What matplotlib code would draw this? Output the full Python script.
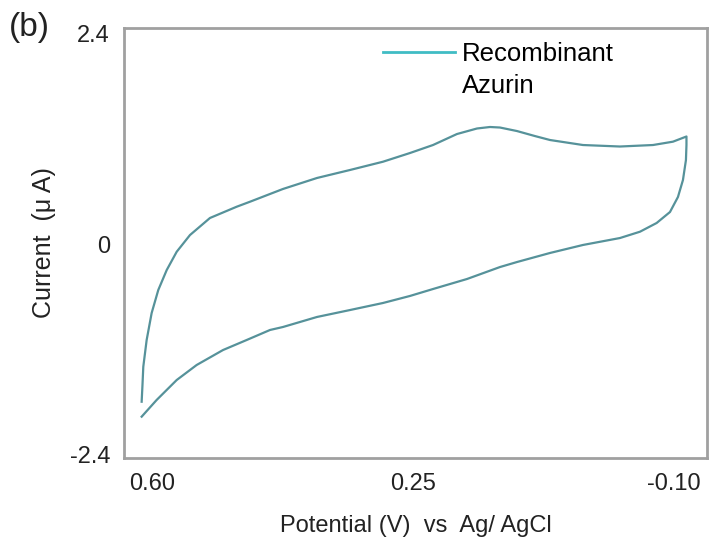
import matplotlib.pyplot as plt
from matplotlib.lines import Line2D

plt.rcParams['font.family'] = ['Liberation Sans', 'DejaVu Sans']

# Cyclic voltammogram (V vs Ag/AgCl, uA)
# forward sweep: from the positive vertex over the top to the negative vertex
fwd_potential = [0.6134, 0.6123, 0.6112, 0.6067, 0.6000, 0.5911, 0.5798, 0.5664,
                 0.5486, 0.5218, 0.4860, 0.4681, 0.4413, 0.4239, 0.3783, 0.3340,
                 0.2898, 0.2536, 0.2227, 0.1906, 0.1637, 0.1463, 0.1329, 0.1101,
                 0.0860, 0.0658, 0.0216, -0.0280, -0.0723, -0.0991, -0.1172]
fwd_current = [-1.794, -1.604, -1.396, -1.092, -0.785, -0.523, -0.296, -0.088,
               0.102, 0.296, 0.424, 0.481, 0.569, 0.626, 0.751, 0.842,
               0.936, 1.035, 1.126, 1.251, 1.314, 1.331, 1.325, 1.285,
               1.228, 1.183, 1.126, 1.109, 1.126, 1.164, 1.223]

# reverse sweep: back along the bottom
rev_potential = [-0.1172, -0.1165, -0.1125, -0.1058, -0.0951, -0.0772, -0.0549,
                 -0.0280, 0.0216, 0.0658, 0.1101, 0.1329, 0.1771, 0.2227, 0.2536,
                 0.2898, 0.3340, 0.3783, 0.4239, 0.4413, 0.4726, 0.5043, 0.5396,
                 0.5664, 0.5933, 0.6134]
rev_current = [1.126, 0.955, 0.728, 0.535, 0.364, 0.239, 0.140,
               0.068, -0.011, -0.102, -0.205, -0.262, -0.398, -0.512, -0.591,
               -0.671, -0.751, -0.830, -0.944, -0.978, -1.092, -1.206, -1.376,
               -1.547, -1.774, -1.964]

x_ticks = [0.60, 0.25, -0.10]
x_ticklabels = ['0.60', '0.25', '-0.10']
y_ticks = [2.4, 0, -2.4]
y_ticklabels = ['2.4', '0', '-2.4']

curve_color = '#56929a'
text_color = '#222222'

fig = plt.figure(figsize=(7.2, 5.46), dpi=100)
ax = fig.add_axes([0.1722, 0.1612, 0.8097, 0.7875])

ax.plot(fwd_potential + rev_potential, fwd_current + rev_current,
        color=curve_color, linewidth=1.6, solid_joinstyle='round')

ax.set_xlim(0.6371, -0.1447)
ax.set_ylim(-2.434, 2.457)

ax.set_xticks(x_ticks)
ax.set_xticklabels(x_ticklabels)
ax.set_yticks(y_ticks)
ax.set_yticklabels(y_ticklabels)
ax.tick_params(length=0, labelsize=17, colors=text_color)
ax.tick_params(axis='x', pad=11)
ax.tick_params(axis='y', pad=10)

for side in ax.spines.values():
    side.set_color('#a0a0a0')
    side.set_linewidth(2)

ax.set_xlabel('Potential (V)  vs  Ag/ AgCl', fontsize=17, labelpad=14, color=text_color)
ax.set_ylabel('Current  (\u03bc A)', fontsize=18, labelpad=10, color=text_color)

# legend: handle beside the first line of the two-line label
handles = [Line2D([], [], color='#40bcc4', linewidth=2),
           Line2D([], [], alpha=0)]
ax.legend(handles, ['Recombinant', 'Azurin'], loc='upper left',
          bbox_to_anchor=(0.422, 0.997), frameon=False, fontsize=18.5,
          handlelength=2.8, handletextpad=0.27, labelspacing=0.3, borderpad=0)

fig.text(0.012, 0.95, '(b)', fontsize=24, ha='left', va='center', color=text_color)

fig.savefig('out.png', dpi=100)
